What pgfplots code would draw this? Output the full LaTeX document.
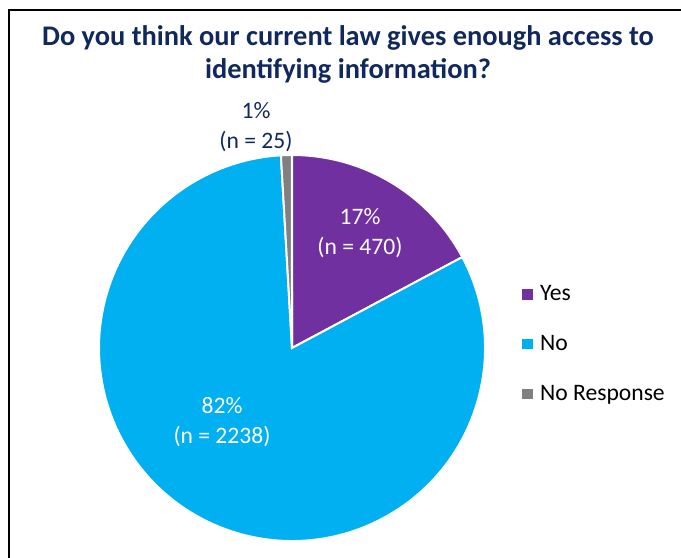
\documentclass[border=0pt]{standalone}
\usepackage{pgfplots}
\usepackage{pgfplotstable}
\pgfplotsset{compat=1.18}
\usepackage{fontspec}
\setmainfont{Carlito}
\definecolor{yescol}{HTML}{7030A0}
\definecolor{nocol}{HTML}{00B0F0}
\definecolor{nrcol}{HTML}{808080}
\definecolor{navy}{HTML}{10285E}
\pgfplotstableread{
label value
Yes 470
No 2238
NoResponse 25
}\piedata
\begin{document}
\begin{tikzpicture}
\pgfplotstablegetelem{0}{value}\of\piedata \let\vA\pgfplotsretval
\pgfplotstablegetelem{1}{value}\of\piedata \let\vB\pgfplotsretval
\pgfplotstablegetelem{2}{value}\of\piedata \let\vC\pgfplotsretval
\pgfmathsetmacro\tot{\vA+\vB+\vC}
\pgfmathsetmacro\aA{90}
\pgfmathsetmacro\aB{\aA-360*(\vA/\tot)}
\pgfmathsetmacro\aC{\aB-360*(\vB/\tot)}
\pgfmathsetmacro\aD{\aC-360*(\vC/\tot)}
\useasboundingbox (0,0) rectangle (510.75pt,417.75pt);
\draw[line width=1.5pt] (6.75pt,-5pt) -- (6.75pt,410.25pt) -- (520pt,410.25pt);
\begin{axis}[
  at={(219pt,156.75pt)}, anchor=center,
  x=0.75pt, y=0.75pt,
  xmin=-250, xmax=250, ymin=-250, ymax=250,
  hide axis, clip=false,
  legend style={draw=none, fill=none, font=\fontsize{17.7}{21}\selectfont,
    at={(axis cs:226,4)}, anchor=west, row sep=20.5pt,
    legend cell align=left},
]
\fill[yescol, draw=white, line width=1.5pt] (axis cs:0,0) -- (axis cs:{193*cos(\aA)},{193*sin(\aA)}) arc[start angle=\aA, end angle=\aB, radius=144.75pt] -- cycle;
\fill[nocol, draw=white, line width=1.5pt] (axis cs:0,0) -- (axis cs:{193*cos(\aB)},{193*sin(\aB)}) arc[start angle=\aB, end angle=\aC, radius=144.75pt] -- cycle;
\fill[nrcol, draw=white, line width=1.5pt] (axis cs:0,0) -- (axis cs:{193*cos(\aC)},{193*sin(\aC)}) arc[start angle=\aC, end angle=\aD, radius=144.75pt] -- cycle;
\addlegendimage{legend image code/.code={\fill[yescol] (0pt,-3.5pt) rectangle (7pt,3.5pt); \path (11pt,0pt);}}
\addlegendentry{Yes}
\addlegendimage{legend image code/.code={\fill[nocol] (0pt,-3.5pt) rectangle (7pt,3.5pt); \path (11pt,0pt);}}
\addlegendentry{No}
\addlegendimage{legend image code/.code={\fill[nrcol] (0pt,-3.5pt) rectangle (7pt,3.5pt); \path (11pt,0pt);}}
\addlegendentry{No Response}
\node[white, align=center, font=\fontsize{17.7}{22}\selectfont] at (axis cs:68,115) {17\%\\(n = 470)};
\node[white, align=center, font=\fontsize{17.7}{22}\selectfont] at (axis cs:-70,-74) {82\%\\(n = 2238)};
\node[navy, align=center, font=\fontsize{17.7}{22}\selectfont] at (axis cs:-36,221) {1\%\\(n = 25)};
\node[navy, anchor=base, font=\bfseries\fontsize{21.3}{26}\selectfont] at (axis cs:56,302) {Do you think our current law gives enough access to};
\node[navy, anchor=base, font=\bfseries\fontsize{21.3}{26}\selectfont] at (axis cs:56,269) {identifying information?};
\end{axis}
\end{tikzpicture}
\end{document}
